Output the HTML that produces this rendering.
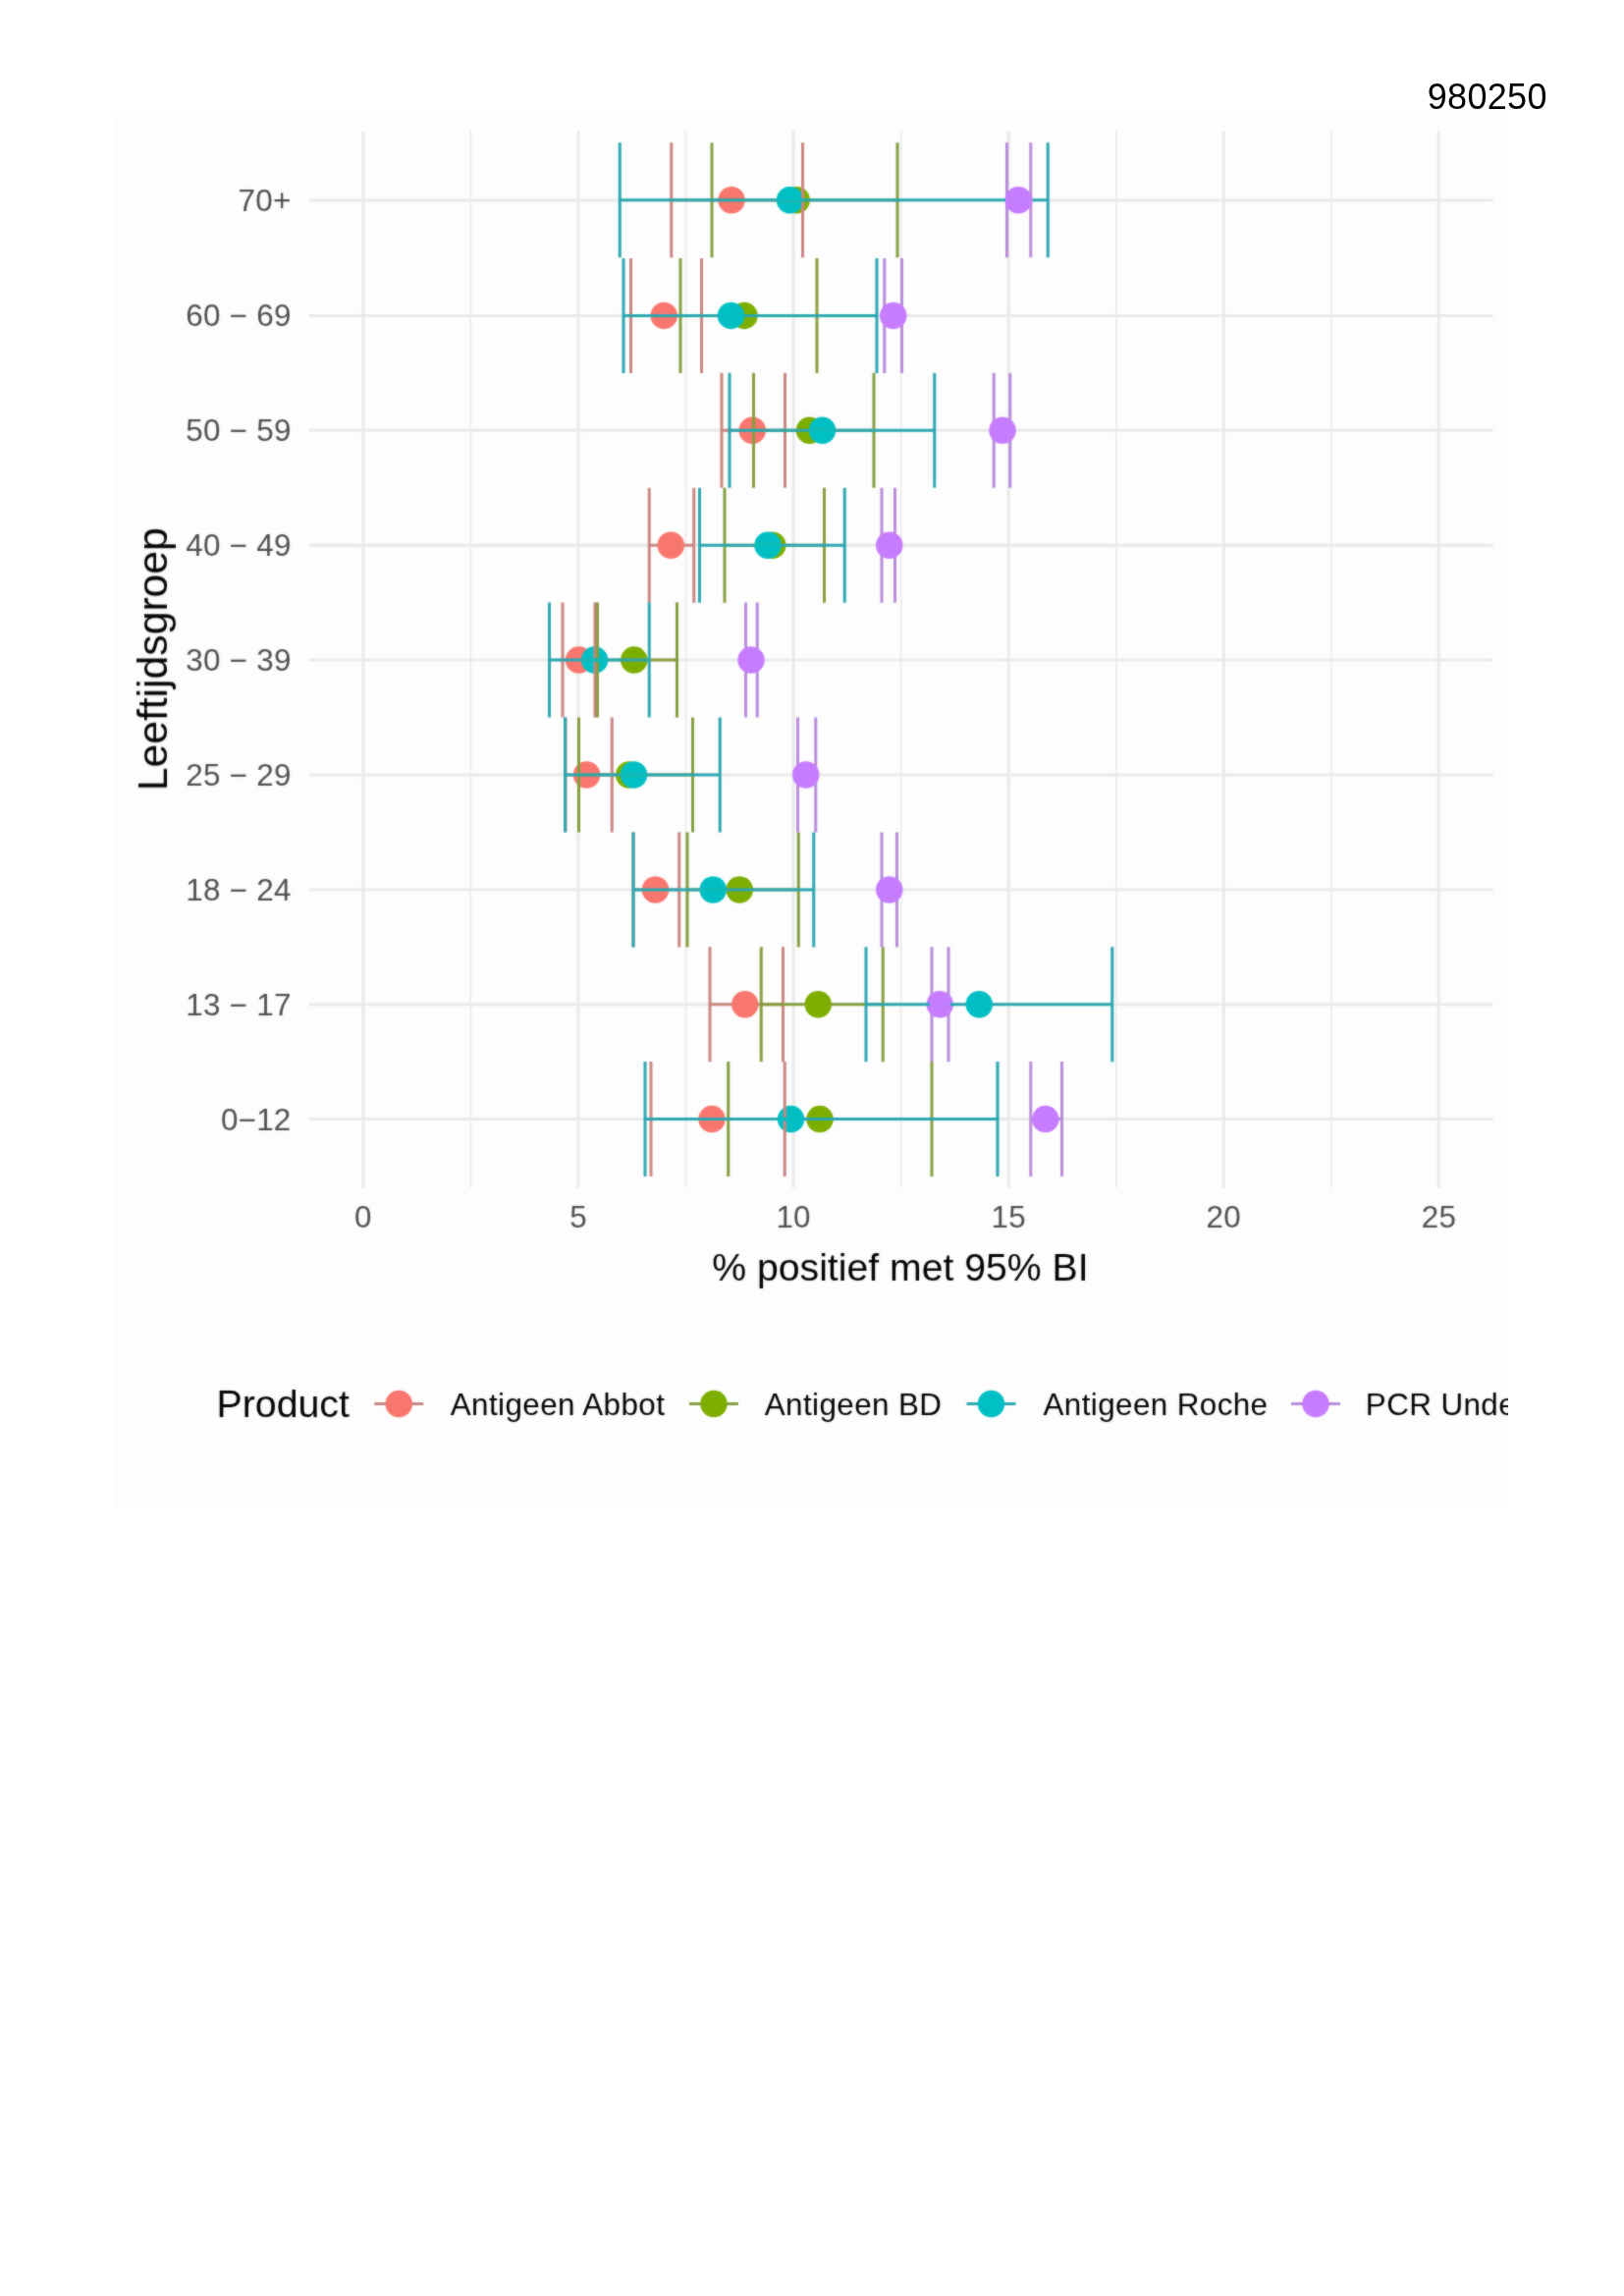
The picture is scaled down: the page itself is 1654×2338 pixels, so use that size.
<!DOCTYPE html>
<html lang="nl"><head><meta charset="utf-8"><title>980250</title>
<style>
html,body{margin:0;padding:0;background:#fff;}
body{width:1654px;height:2338px;overflow:hidden;position:relative;font-family:"Liberation Sans",sans-serif;}
svg{position:absolute;left:0;top:0;display:block;}
text{font-family:"Liberation Sans",sans-serif;}
.tk{font-size:31.4px;fill:#4d4d4d;letter-spacing:0.25px;}
.lg{font-size:31.4px;fill:#000;letter-spacing:0.4px;}
</style></head><body>
<svg width="1654" height="2338" viewBox="0 0 1654 2338">
<defs><filter id="soft" filterUnits="userSpaceOnUse" x="0" y="0" width="1654" height="2338" color-interpolation-filters="sRGB"><feGaussianBlur in="SourceGraphic" stdDeviation="0.9" result="b"/><feComposite in="SourceGraphic" in2="b" operator="arithmetic" k1="0" k2="0.55" k3="0.45" k4="0"/></filter><filter id="aa" filterUnits="userSpaceOnUse" x="1400" y="50" width="254" height="80" color-interpolation-filters="sRGB"><feOffset dx="0" dy="0"/></filter><clipPath id="imgclip"><rect x="117" y="117" width="1419" height="1419"/></clipPath></defs>
<g filter="url(#aa)"><text x="1453.8" y="110.9" font-size="36" fill="#000" letter-spacing="0.3">980250</text></g>
<rect x="117" y="117" width="1419" height="1419" fill="#fdfdfd"/>
<g clip-path="url(#imgclip)" filter="url(#soft)">
<g stroke="#e9e9e9" fill="none">
<line x1="479.45" y1="133.3" x2="479.45" y2="1209.5" stroke-width="1.5"/>
<line x1="698.55" y1="133.3" x2="698.55" y2="1209.5" stroke-width="1.5"/>
<line x1="917.65" y1="133.3" x2="917.65" y2="1209.5" stroke-width="1.5"/>
<line x1="1136.75" y1="133.3" x2="1136.75" y2="1209.5" stroke-width="1.5"/>
<line x1="1355.85" y1="133.3" x2="1355.85" y2="1209.5" stroke-width="1.5"/>
<line x1="369.9" y1="133.3" x2="369.9" y2="1209.5" stroke-width="3"/>
<line x1="589" y1="133.3" x2="589" y2="1209.5" stroke-width="3"/>
<line x1="808.1" y1="133.3" x2="808.1" y2="1209.5" stroke-width="3"/>
<line x1="1027.2" y1="133.3" x2="1027.2" y2="1209.5" stroke-width="3"/>
<line x1="1246.3" y1="133.3" x2="1246.3" y2="1209.5" stroke-width="3"/>
<line x1="1465.4" y1="133.3" x2="1465.4" y2="1209.5" stroke-width="3"/>
<line x1="314.75" y1="203.7" x2="1520.6" y2="203.7" stroke-width="3"/>
<line x1="314.75" y1="321.4" x2="1520.6" y2="321.4" stroke-width="3"/>
<line x1="314.75" y1="438.3" x2="1520.6" y2="438.3" stroke-width="3"/>
<line x1="314.75" y1="555.3" x2="1520.6" y2="555.3" stroke-width="3"/>
<line x1="314.75" y1="672.1" x2="1520.6" y2="672.1" stroke-width="3"/>
<line x1="314.75" y1="789" x2="1520.6" y2="789" stroke-width="3"/>
<line x1="314.75" y1="906" x2="1520.6" y2="906" stroke-width="3"/>
<line x1="314.75" y1="1022.8" x2="1520.6" y2="1022.8" stroke-width="3"/>
<line x1="314.75" y1="1139.6" x2="1520.6" y2="1139.6" stroke-width="3"/>
</g>
<g stroke="none">
<circle cx="745" cy="203.7" r="13.75" fill="#f8766d"/>
<circle cx="676.25" cy="321.4" r="13.75" fill="#f8766d"/>
<circle cx="766.25" cy="438.3" r="13.75" fill="#f8766d"/>
<circle cx="683.25" cy="555.3" r="13.75" fill="#f8766d"/>
<circle cx="589.5" cy="672.1" r="13.75" fill="#f8766d"/>
<circle cx="597.5" cy="789" r="13.75" fill="#f8766d"/>
<circle cx="667.5" cy="906" r="13.75" fill="#f8766d"/>
<circle cx="758.75" cy="1022.8" r="13.75" fill="#f8766d"/>
<circle cx="725" cy="1139.6" r="13.75" fill="#f8766d"/>
<circle cx="811.25" cy="203.7" r="13.75" fill="#7cae00"/>
<circle cx="758" cy="321.4" r="13.75" fill="#7cae00"/>
<circle cx="824.5" cy="438.3" r="13.75" fill="#7cae00"/>
<circle cx="786.75" cy="555.3" r="13.75" fill="#7cae00"/>
<circle cx="645.75" cy="672.1" r="13.75" fill="#7cae00"/>
<circle cx="640.75" cy="789" r="13.75" fill="#7cae00"/>
<circle cx="753.25" cy="906" r="13.75" fill="#7cae00"/>
<circle cx="833.25" cy="1022.8" r="13.75" fill="#7cae00"/>
<circle cx="835" cy="1139.6" r="13.75" fill="#7cae00"/>
<circle cx="804.5" cy="203.7" r="13.75" fill="#00bfc4"/>
<circle cx="744.5" cy="321.4" r="13.75" fill="#00bfc4"/>
<circle cx="837.5" cy="438.3" r="13.75" fill="#00bfc4"/>
<circle cx="782" cy="555.3" r="13.75" fill="#00bfc4"/>
<circle cx="605.6" cy="672.1" r="13.75" fill="#00bfc4"/>
<circle cx="645.5" cy="789" r="13.75" fill="#00bfc4"/>
<circle cx="726.25" cy="906" r="13.75" fill="#00bfc4"/>
<circle cx="997.25" cy="1022.8" r="13.75" fill="#00bfc4"/>
<circle cx="805.5" cy="1139.6" r="13.75" fill="#00bfc4"/>
<circle cx="1037.25" cy="203.7" r="13.75" fill="#c77cff"/>
<circle cx="909.75" cy="321.4" r="13.75" fill="#c77cff"/>
<circle cx="1021" cy="438.3" r="13.75" fill="#c77cff"/>
<circle cx="905.75" cy="555.3" r="13.75" fill="#c77cff"/>
<circle cx="765" cy="672.1" r="13.75" fill="#c77cff"/>
<circle cx="820.75" cy="789" r="13.75" fill="#c77cff"/>
<circle cx="905.75" cy="906" r="13.75" fill="#c77cff"/>
<circle cx="957.25" cy="1022.8" r="13.75" fill="#c77cff"/>
<circle cx="1064.75" cy="1139.6" r="13.75" fill="#c77cff"/>
</g>
<g fill="none" stroke-width="3" stroke-linecap="butt">
<path stroke="#c98581" d="M683.75 145.2V262.2M817.5 145.2V262.2M683.75 203.7H817.5"/>
<path stroke="#f8766d" d="M731.85 203.7H758.15"/>
<path stroke="#c98581" d="M642.5 262.9V379.9M714.5 262.9V379.9M642.5 321.4H714.5"/>
<path stroke="#f8766d" d="M663.1 321.4H689.4"/>
<path stroke="#c98581" d="M735 379.8V496.8M799.5 379.8V496.8M735 438.3H799.5"/>
<path stroke="#f8766d" d="M753.1 438.3H779.4"/>
<path stroke="#c98581" d="M661.25 496.8V613.8M706.75 496.8V613.8M661.25 555.3H706.75"/>
<path stroke="#f8766d" d="M670.1 555.3H696.4"/>
<path stroke="#c98581" d="M573 613.6V730.6M606 613.6V730.6M573 672.1H606"/>
<path stroke="#f8766d" d="M576.35 672.1H602.65"/>
<path stroke="#c98581" d="M576 730.5V847.5M623.25 730.5V847.5M576 789H623.25"/>
<path stroke="#f8766d" d="M584.35 789H610.65"/>
<path stroke="#c98581" d="M645 847.5V964.5M691.75 847.5V964.5M645 906H691.75"/>
<path stroke="#f8766d" d="M654.35 906H680.65"/>
<path stroke="#c98581" d="M723 964.3V1081.3M797.5 964.3V1081.3M723 1022.8H797.5"/>
<path stroke="#f8766d" d="M745.6 1022.8H771.9"/>
<path stroke="#c98581" d="M663 1081.1V1198.1M799.25 1081.1V1198.1M663 1139.6H799.25"/>
<path stroke="#f8766d" d="M711.85 1139.6H738.15"/>
<path stroke="#849d3c" d="M725 145.2V262.2M914 145.2V262.2M725 203.7H914"/>
<path stroke="#7cae00" d="M798.1 203.7H824.4"/>
<path stroke="#849d3c" d="M693 262.9V379.9M832 262.9V379.9M693 321.4H832"/>
<path stroke="#7cae00" d="M744.85 321.4H771.15"/>
<path stroke="#849d3c" d="M767.5 379.8V496.8M890 379.8V496.8M767.5 438.3H890"/>
<path stroke="#7cae00" d="M811.35 438.3H837.65"/>
<path stroke="#849d3c" d="M738 496.8V613.8M839.5 496.8V613.8M738 555.3H839.5"/>
<path stroke="#7cae00" d="M773.6 555.3H799.9"/>
<path stroke="#849d3c" d="M608.5 613.6V730.6M689.5 613.6V730.6M608.5 672.1H689.5"/>
<path stroke="#7cae00" d="M632.6 672.1H658.9"/>
<path stroke="#849d3c" d="M589.5 730.5V847.5M705.5 730.5V847.5M589.5 789H705.5"/>
<path stroke="#7cae00" d="M627.6 789H653.9"/>
<path stroke="#849d3c" d="M700 847.5V964.5M813.25 847.5V964.5M700 906H813.25"/>
<path stroke="#7cae00" d="M740.1 906H766.4"/>
<path stroke="#849d3c" d="M775.25 964.3V1081.3M899.25 964.3V1081.3M775.25 1022.8H899.25"/>
<path stroke="#7cae00" d="M820.1 1022.8H846.4"/>
<path stroke="#849d3c" d="M741.75 1081.1V1198.1M949 1081.1V1198.1M741.75 1139.6H949"/>
<path stroke="#7cae00" d="M821.85 1139.6H848.15"/>
<path stroke="#29a6b0" d="M631.25 145.2V262.2M1067.25 145.2V262.2M631.25 203.7H1067.25"/>
<path stroke="#00bfc4" d="M791.35 203.7H817.65"/>
<path stroke="#29a6b0" d="M635 262.9V379.9M893 262.9V379.9M635 321.4H893"/>
<path stroke="#00bfc4" d="M731.35 321.4H757.65"/>
<path stroke="#29a6b0" d="M743 379.8V496.8M951.75 379.8V496.8M743 438.3H951.75"/>
<path stroke="#00bfc4" d="M824.35 438.3H850.65"/>
<path stroke="#29a6b0" d="M712.5 496.8V613.8M860.25 496.8V613.8M712.5 555.3H860.25"/>
<path stroke="#00bfc4" d="M768.85 555.3H795.15"/>
<path stroke="#29a6b0" d="M559.5 613.6V730.6M661.25 613.6V730.6M559.5 672.1H661.25"/>
<path stroke="#00bfc4" d="M592.45 672.1H618.75"/>
<path stroke="#29a6b0" d="M575.5 730.5V847.5M733.25 730.5V847.5M575.5 789H733.25"/>
<path stroke="#00bfc4" d="M632.35 789H658.65"/>
<path stroke="#29a6b0" d="M645 847.5V964.5M828.75 847.5V964.5M645 906H828.75"/>
<path stroke="#00bfc4" d="M713.1 906H739.4"/>
<path stroke="#29a6b0" d="M882 964.3V1081.3M1132.75 964.3V1081.3M882 1022.8H1132.75"/>
<path stroke="#00bfc4" d="M984.1 1022.8H1010.4"/>
<path stroke="#29a6b0" d="M657 1081.1V1198.1M1016 1081.1V1198.1M657 1139.6H1016"/>
<path stroke="#00bfc4" d="M792.35 1139.6H818.65"/>
<path stroke="#b88bda" d="M1025.5 145.2V262.2M1049.75 145.2V262.2M1025.5 203.7H1049.75"/>
<path stroke="#c77cff" d="M1024.1 203.7H1050.4"/>
<path stroke="#c77cff" d="M1025.5 197.16V210.24"/>
<path stroke="#c77cff" d="M1049.75 198.57V208.83"/>
<path stroke="#b88bda" d="M900.75 262.9V379.9M918.5 262.9V379.9M900.75 321.4H918.5"/>
<path stroke="#c77cff" d="M899.25 321.4H920"/>
<path stroke="#c77cff" d="M900.75 311.6V331.2"/>
<path stroke="#c77cff" d="M918.5 311.39V331.41"/>
<path stroke="#b88bda" d="M1012.25 379.8V496.8M1028.75 379.8V496.8M1012.25 438.3H1028.75"/>
<path stroke="#c77cff" d="M1010.75 438.3H1030.25"/>
<path stroke="#c77cff" d="M1012.25 428.29V448.31"/>
<path stroke="#c77cff" d="M1028.75 427.54V449.06"/>
<path stroke="#b88bda" d="M898 496.8V613.8M911.5 496.8V613.8M898 555.3H911.5"/>
<path stroke="#c77cff" d="M896.5 555.3H913"/>
<path stroke="#c77cff" d="M898 544.54V566.06"/>
<path stroke="#c77cff" d="M911.5 543.41V567.19"/>
<path stroke="#b88bda" d="M759.5 613.6V730.6M771.25 613.6V730.6M759.5 672.1H771.25"/>
<path stroke="#c77cff" d="M758 672.1H772.75"/>
<path stroke="#c77cff" d="M759.5 660.1V684.1"/>
<path stroke="#c77cff" d="M771.25 660.45V683.75"/>
<path stroke="#b88bda" d="M812.5 730.5V847.5M830.75 730.5V847.5M812.5 789H830.75"/>
<path stroke="#c77cff" d="M811 789H832.25"/>
<path stroke="#c77cff" d="M812.5 778.6V799.4"/>
<path stroke="#c77cff" d="M830.75 780.16V797.84"/>
<path stroke="#b88bda" d="M898 847.5V964.5M913.5 847.5V964.5M898 906H913.5"/>
<path stroke="#c77cff" d="M896.5 906H915"/>
<path stroke="#c77cff" d="M898 895.24V916.76"/>
<path stroke="#c77cff" d="M913.5 895.24V916.76"/>
<path stroke="#b88bda" d="M949 964.3V1081.3M966 964.3V1081.3M949 1022.8H966"/>
<path stroke="#c77cff" d="M947.5 1022.8H967.5"/>
<path stroke="#c77cff" d="M949 1012.4V1033.2"/>
<path stroke="#c77cff" d="M966 1012.79V1032.81"/>
<path stroke="#b88bda" d="M1049.75 1081.1V1198.1M1081.5 1081.1V1198.1M1049.75 1139.6H1081.5"/>
<path stroke="#c77cff" d="M1051.6 1139.6H1077.9"/>
</g>
<text class="tk" x="296.6" y="214.6" text-anchor="end">70+</text>
<text class="tk" x="296.6" y="332.3" text-anchor="end">60 − 69</text>
<text class="tk" x="296.6" y="449.2" text-anchor="end">50 − 59</text>
<text class="tk" x="296.6" y="566.2" text-anchor="end">40 − 49</text>
<text class="tk" x="296.6" y="683" text-anchor="end">30 − 39</text>
<text class="tk" x="296.6" y="799.9" text-anchor="end">25 − 29</text>
<text class="tk" x="296.6" y="916.9" text-anchor="end">18 − 24</text>
<text class="tk" x="296.6" y="1033.7" text-anchor="end">13 − 17</text>
<text class="tk" x="296.6" y="1150.5" text-anchor="end">0−12</text>
<text class="tk" x="369.9" y="1249.8" text-anchor="middle">0</text>
<text class="tk" x="589" y="1249.8" text-anchor="middle">5</text>
<text class="tk" x="808.1" y="1249.8" text-anchor="middle">10</text>
<text class="tk" x="1027.2" y="1249.8" text-anchor="middle">15</text>
<text class="tk" x="1246.3" y="1249.8" text-anchor="middle">20</text>
<text class="tk" x="1465.4" y="1249.8" text-anchor="middle">25</text>
<text x="916.9" y="1304.1" font-size="39.2" fill="#000" text-anchor="middle">% positief met 95% BI</text>
<text transform="translate(170 671.25) rotate(-90)" font-size="42.7" fill="#000" text-anchor="middle">Leeftijdsgroep</text>
<text x="220.5" y="1443.1" font-size="39.3" fill="#000">Product</text>
<circle cx="406.25" cy="1429.5" r="13.75" fill="#f8766d"/>
<line x1="381.25" y1="1429.5" x2="431.25" y2="1429.5" stroke="#c98581" stroke-width="3"/>
<line x1="393.1" y1="1429.5" x2="419.4" y2="1429.5" stroke="#f8766d" stroke-width="3"/>
<text class="lg" x="458.75" y="1440.5">Antigeen Abbot</text>
<circle cx="727" cy="1429.5" r="13.75" fill="#7cae00"/>
<line x1="702" y1="1429.5" x2="752" y2="1429.5" stroke="#849d3c" stroke-width="3"/>
<line x1="713.85" y1="1429.5" x2="740.15" y2="1429.5" stroke="#7cae00" stroke-width="3"/>
<text class="lg" x="778.75" y="1440.5">Antigeen BD</text>
<circle cx="1009.5" cy="1429.5" r="13.75" fill="#00bfc4"/>
<line x1="984.5" y1="1429.5" x2="1034.5" y2="1429.5" stroke="#29a6b0" stroke-width="3"/>
<line x1="996.35" y1="1429.5" x2="1022.65" y2="1429.5" stroke="#00bfc4" stroke-width="3"/>
<text class="lg" x="1062.5" y="1440.5">Antigeen Roche</text>
<circle cx="1340" cy="1429.5" r="13.75" fill="#c77cff"/>
<line x1="1315" y1="1429.5" x2="1365" y2="1429.5" stroke="#b88bda" stroke-width="3"/>
<line x1="1326.85" y1="1429.5" x2="1353.15" y2="1429.5" stroke="#c77cff" stroke-width="3"/>
<text class="lg" x="1390.8" y="1440.5">PCR Unde</text>
</g>
</svg>
</body></html>
